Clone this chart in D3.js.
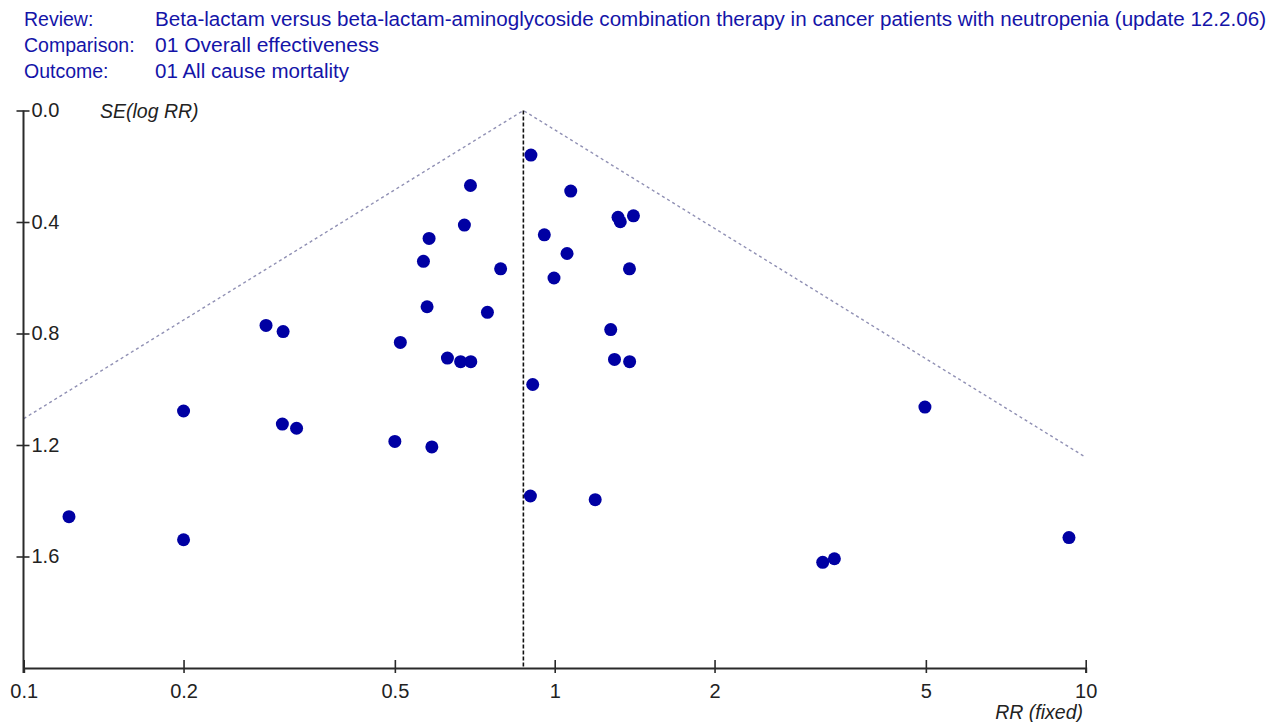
<!DOCTYPE html>
<html>
<head>
<meta charset="utf-8">
<script src="https://cdn.jsdelivr.net/npm/d3@7"></script>
<style>
  html, body { margin: 0; padding: 0; background: #fff; }
  svg { display: block; font-family: "Liberation Sans", Arial, sans-serif; }
</style>
</head>
<body>
<svg id="chart" width="1278" height="722"></svg>
<script>
// ---- data ----
const headerLabels = ["Review:", "Comparison:", "Outcome:"];
const headerValues = [
  "Beta-lactam versus beta-lactam-aminoglycoside combination therapy in cancer patients with neutropenia (update 12.2.06)",
  "01 Overall effectiveness",
  "01 All cause mortality"
];
const headerValueWidths = [1111, 224, 194];
const xTickValues = [0.1, 0.2, 0.5, 1, 2, 5, 10];
const yTickValues = [0, 0.4, 0.8, 1.2, 1.6];
const xTitle = "RR (fixed)";
const yTitle = "SE(log RR)";
const pooledRR = 0.873;
const studyRR = [0.902, 0.694, 1.072, 1.316, 1.329, 1.407, 0.676, 0.956, 0.580, 1.055,
                 0.566, 0.791, 1.383, 0.997, 0.575, 0.747, 0.286, 0.308, 1.275, 0.512,
                 0.628, 0.665, 0.695, 1.296, 1.384, 0.909, 0.200, 4.98, 0.307, 0.3265,
                 0.500, 0.587, 0.900, 1.192, 0.1217, 0.200, 9.30, 3.363, 3.197];
const studySE = [0.160, 0.269, 0.289, 0.383, 0.399, 0.378, 0.411, 0.446, 0.459, 0.513,
                 0.541, 0.568, 0.568, 0.601, 0.704, 0.724, 0.771, 0.793, 0.786, 0.832,
                 0.888, 0.901, 0.901, 0.893, 0.901, 0.983, 1.078, 1.064, 1.125, 1.140,
                 1.187, 1.207, 1.383, 1.396, 1.457, 1.540, 1.532, 1.608, 1.621];

// ---- layout ----
const svg = d3.select("#chart");
const x = d3.scaleLog().domain([0.1, 10]).range([23.7, 1085.7]);
const y = d3.scaleLinear().domain([0, 2]).range([110.5, 668]);
const textBlue = "#1414a8";
const axisColor = "#2a2a2a";
const fontFam = "\"Liberation Sans\", Arial, sans-serif";

// header
const hdr = svg.append("g").attr("font-size", 19.5).attr("fill", textBlue);
headerLabels.forEach((t, i) => {
  hdr.append("text").attr("x", 24).attr("y", 25.5 + i * 26.3).text(t);
  hdr.append("text").attr("x", 155).attr("y", 25.5 + i * 26.3)
    .attr("textLength", headerValueWidths[i]).attr("lengthAdjust", "spacingAndGlyphs")
    .text(headerValues[i]);
});

// funnel lines (95% limits around pooled estimate)
const lp = Math.log(pooledRR);
const seLeft = (lp - Math.log(x.domain()[0])) / 1.96;
const seRight = (Math.log(x.domain()[1]) - lp) / 1.96;
const funnel = [
  [x.domain()[0], seLeft],
  [pooledRR, 0],
  [x.domain()[1], seRight]
];
svg.append("path")
  .attr("d", d3.line().x(d => x(d[0])).y(d => y(d[1]))(funnel))
  .attr("fill", "none")
  .attr("stroke", "#9090b4")
  .attr("stroke-width", 1.4)
  .attr("stroke-dasharray", "3,3");

// pooled vertical dashed line
svg.append("line")
  .attr("x1", x(pooledRR)).attr("x2", x(pooledRR))
  .attr("y1", y(0)).attr("y2", y(2))
  .attr("stroke", "#111")
  .attr("stroke-width", 1.6)
  .attr("stroke-dasharray", "4,2");

// axes
const xAxis = svg.append("g")
  .attr("transform", `translate(0,${y(2)})`)
  .call(d3.axisBottom(x).tickValues(xTickValues).tickFormat(d3.format("~g")).tickSizeOuter(0).tickSize(5).tickPadding(11));
xAxis.select(".domain").attr("stroke", axisColor).attr("stroke-width", 2);
xAxis.selectAll(".tick line").attr("y1", -8).attr("y2", 5).attr("stroke", axisColor).attr("stroke-width", 1.6);
xAxis.selectAll(".tick text").attr("font-size", 20).attr("fill", "#222").attr("font-family", fontFam);

const yAxis = svg.append("g")
  .attr("transform", `translate(23.5,0)`)
  .call(d3.axisRight(y).tickValues(yTickValues).tickFormat(d3.format(".1f")).tickSizeOuter(0).tickSize(6).tickPadding(2));
yAxis.select(".domain").attr("stroke", axisColor).attr("stroke-width", 2)
  .attr("d", `M0,${y(0)}V${y(2) + 5}`);
yAxis.selectAll(".tick line").attr("x1", -7).attr("x2", 6).attr("stroke", axisColor).attr("stroke-width", 1.6);
yAxis.selectAll(".tick text").attr("font-size", 20).attr("fill", "#222").attr("font-family", fontFam);

// axis titles
svg.append("text").attr("x", 100).attr("y", y(0) + 7)
  .attr("font-size", 19.5).attr("font-style", "italic").attr("fill", "#222").text(yTitle);
svg.append("text").attr("x", 1083).attr("y", 719).attr("text-anchor", "end")
  .attr("font-size", 19.5).attr("font-style", "italic").attr("fill", "#222").text(xTitle);

// points
svg.append("g").selectAll("circle")
  .data(studyRR.map((rr, i) => ({ rr, se: studySE[i] })))
  .join("circle")
  .attr("cx", d => x(d.rr))
  .attr("cy", d => y(d.se))
  .attr("r", 6.5)
  .attr("fill", "#0000a3");
</script>
</body>
</html>
